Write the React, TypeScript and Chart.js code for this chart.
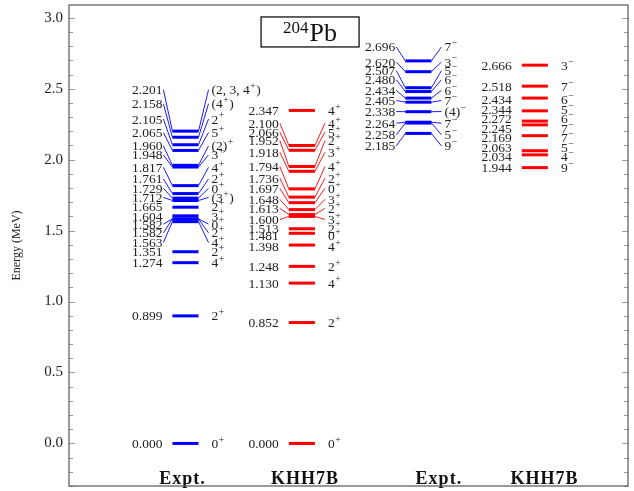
import { useEffect, useRef } from 'react';
import { Chart, registerables } from 'chart.js';

Chart.register(...registerables);

// ---- data (MeV) ----
const columnNames = ['Expt.', 'KHH7B', 'Expt.', 'KHH7B'];
const columnAt = [1, 2, 3, 4];
const columnLabelAt = [0.974, 2.026, 3.176, 4.082];
const nucleusMass = '204';
const nucleusSymbol = 'Pb';
const titleAt = { x: 2.07, y: 2.9 };

// Experiment, positive parity
const exptPosE = [0.0, 0.899, 1.274, 1.351, 1.563, 1.582, 1.582, 1.604, 1.665, 1.712, 1.729, 1.761, 1.817, 1.948, 1.96, 2.065, 2.105, 2.158, 2.201];
const exptPosJ = ['0^+', '2^+', '4^+', '2^+', '4^+', '2^+', '0^+', '3^+', '2^+', '(3^+)', '0^+', '2^+', '4^+', '3^+', '(2)^+', '5^+', '2^+', '(4^+)', '(2, 3, 4^+)'];
const exptPosLabelE = [0.0, 0.899, 1.274, 1.351, 1.416, 1.484, 1.546, 1.602, 1.668, 1.734, 1.798, 1.864, 1.946, 2.033, 2.097, 2.191, 2.286, 2.394, 2.493];

// KHH7B, positive parity
const khhPosE = [0.0, 0.852, 1.13, 1.248, 1.398, 1.481, 1.513, 1.6, 1.613, 1.648, 1.697, 1.736, 1.794, 1.918, 1.952, 2.066, 2.1, 2.347];
const khhPosJ = ['0^+', '2^+', '4^+', '2^+', '4^+', '0^+', '2^+', '3^+', '2^+', '3^+', '0^+', '2^+', '4^+', '3^+', '2^+', '5^+', '4^+', '4^+'];
const khhPosLabelE = [0.0, 0.852, 1.13, 1.248, 1.385, 1.463, 1.518, 1.578, 1.657, 1.72, 1.798, 1.869, 1.951, 2.052, 2.134, 2.194, 2.257, 2.347];

// Experiment, negative parity
const exptNegE = [2.185, 2.258, 2.264, 2.338, 2.405, 2.434, 2.48, 2.507, 2.62, 2.696];
const exptNegJ = ['9^−', '5^−', '7^−', '(4)^−', '7^−', '6^−', '6^−', '5^−', '3^−', '7^−'];
const exptNegLabelE = [2.097, 2.175, 2.257, 2.339, 2.417, 2.488, 2.563, 2.627, 2.688, 2.794];

// KHH7B, negative parity
const khhNegE = [1.944, 2.034, 2.063, 2.169, 2.245, 2.272, 2.344, 2.434, 2.518, 2.666];
const khhNegJ = ['9^−', '4^−', '5^−', '7^−', '7^−', '6^−', '5^−', '6^−', '7^−', '3^−'];
const khhNegLabelE = [1.946, 2.021, 2.085, 2.158, 2.222, 2.288, 2.351, 2.422, 2.518, 2.666];

const yTicksMin = -0.3;
const yTicksMax = 3.09;

// ---- styles ----
const BLUE = '#0000ff';
const RED = '#ff0000';
const SERIF = '"Liberation Serif", "Times New Roman", serif';
const HALF = 0.112;

type Col = {
  x: number;
  energies: number[];
  spins: string[];
  labelE: number[];
  color: string;
  links: 'all' | 'moved' | 'none';
};

const cols: Col[] = [
  { x: columnAt[0], energies: exptPosE, spins: exptPosJ, labelE: exptPosLabelE, color: BLUE, links: 'moved' },
  { x: columnAt[1], energies: khhPosE, spins: khhPosJ, labelE: khhPosLabelE, color: RED, links: 'moved' },
  { x: columnAt[2], energies: exptNegE, spins: exptNegJ, labelE: exptNegLabelE, color: BLUE, links: 'all' },
  { x: columnAt[3], energies: khhNegE, spins: khhNegJ, labelE: khhNegLabelE, color: RED, links: 'none' },
];

function drawRich(ctx: CanvasRenderingContext2D, text: string, x: number, y: number, size: number) {
  let cx = x;
  let buf = '';
  const flush = () => {
    if (!buf) return;
    ctx.font = `${size}px ${SERIF}`;
    ctx.fillText(buf, cx, y);
    cx += ctx.measureText(buf).width;
    buf = '';
  };
  for (let i = 0; i < text.length; i++) {
    if (text[i] === '^' && i + 1 < text.length) {
      flush();
      const s = text[i + 1];
      const ss = size * 0.72;
      ctx.font = `${ss}px ${SERIF}`;
      ctx.fillText(s, cx + 0.5, y - size * 0.38);
      cx += ctx.measureText(s).width + 1;
      i++;
    } else {
      buf += text[i];
    }
  }
  flush();
}

const levelPlugin = {
  id: 'levelScheme',
  afterDraw(chart: any) {
    const { ctx, chartArea: ca, scales } = chart;
    const xs = scales.x;
    const ys = scales.y;
    ctx.save();

    // minor / major ticks, inward on left and right
    ctx.strokeStyle = '#9a9a9a';
    ctx.lineWidth = 1;
    for (let i = Math.ceil(yTicksMin * 10); i <= Math.floor(yTicksMax * 10); i++) {
      const py = Math.round(ys.getPixelForValue(i / 10)) + 0.5;
      const len = i % 5 === 0 ? 6 : 4;
      ctx.beginPath();
      ctx.moveTo(ca.left, py);
      ctx.lineTo(ca.left + len, py);
      ctx.moveTo(ca.right, py);
      ctx.lineTo(ca.right - len, py);
      ctx.stroke();
    }

    // connectors & labels
    const fs = 13.5;
    for (const col of cols) {
      const x0 = xs.getPixelForValue(col.x - HALF);
      const x1 = xs.getPixelForValue(col.x + HALF);
      col.energies.forEach((E, i) => {
        const yl = ys.getPixelForValue(E);
        const yt = ys.getPixelForValue(col.labelE[i]);
        const link = col.links === 'all' || (col.links === 'moved' && Math.abs(col.labelE[i] - E) > 0.02);
        if (link) {
          ctx.strokeStyle = col.color;
          ctx.lineWidth = 0.9;
          ctx.beginPath();
          ctx.moveTo(x0 - 9, yt);
          ctx.lineTo(x0, yl);
          ctx.moveTo(x1, yl);
          ctx.lineTo(x1 + 10, yt);
          ctx.stroke();
        }
        ctx.fillStyle = '#222';
        ctx.font = `${fs}px ${SERIF}`;
        ctx.textAlign = 'right';
        ctx.textBaseline = 'alphabetic';
        ctx.fillText(E.toFixed(3), x0 - 10, yt + 4.5);
        ctx.textAlign = 'left';
        drawRich(ctx, col.spins[i], x1 + 13, yt + 4.5, fs);
      });
    }

    // column names
    ctx.fillStyle = '#111';
    ctx.font = `bold 18px ${SERIF}`;
    ctx.textAlign = 'center';
    ctx.textBaseline = 'alphabetic';
    try { (ctx as any).letterSpacing = '1px'; } catch (e) {}
    columnNames.forEach((n, i) => {
      ctx.fillText(n, xs.getPixelForValue(columnLabelAt[i]), ca.bottom - 2);
    });
    try { (ctx as any).letterSpacing = '0px'; } catch (e) {}

    // title box
    const tx = xs.getPixelForValue(titleAt.x);
    const ty = ys.getPixelForValue(titleAt.y);
    ctx.fillStyle = '#fff';
    ctx.strokeStyle = '#111';
    ctx.lineWidth = 1.3;
    ctx.fillRect(tx - 49, ty - 15, 98, 30);
    ctx.strokeRect(tx - 49, ty - 15, 98, 30);
    ctx.fillStyle = '#111';
    ctx.font = `17px ${SERIF}`;
    const wSup = ctx.measureText(nucleusMass).width;
    ctx.font = `26px ${SERIF}`;
    const wSym = ctx.measureText(nucleusSymbol).width;
    const startX = tx - (wSup + 1 + wSym) / 2;
    ctx.textAlign = 'left';
    ctx.font = `17px ${SERIF}`;
    ctx.fillText(nucleusMass, startX, ty + 1);
    ctx.font = `26px ${SERIF}`;
    ctx.fillText(nucleusSymbol, startX + wSup + 1, ty + 9);

    // y axis title
    ctx.save();
    ctx.translate(17, (ca.top + ca.bottom) / 2);
    ctx.rotate(-Math.PI / 2);
    ctx.font = `12px ${SERIF}`;
    ctx.fillStyle = '#222';
    ctx.textAlign = 'center';
    ctx.textBaseline = 'middle';
    ctx.fillText('Energy (MeV)', 0, 0);
    ctx.restore();

    // frame
    ctx.strokeStyle = '#555';
    ctx.lineWidth = 1.2;
    ctx.strokeRect(ca.left, ca.top, ca.right - ca.left, ca.bottom - ca.top);
    ctx.restore();
  },
};

export default function App() {
  const ref = useRef<HTMLCanvasElement>(null);
  useEffect(() => {
    if (!ref.current) return;
    const datasets: any[] = [];
    for (const col of cols) {
      col.energies.forEach((E) => {
        datasets.push({
          data: [
            { x: col.x - HALF, y: E },
            { x: col.x + HALF, y: E },
          ],
          showLine: true,
          borderColor: col.color,
          backgroundColor: col.color,
          borderWidth: 3,
          pointRadius: 0,
          borderCapStyle: 'butt',
        });
      });
    }
    const chart = new Chart(ref.current, {
      type: 'scatter',
      data: { datasets },
      options: {
        animation: false,
        responsive: false,
        devicePixelRatio: 1,
        layout: { padding: { top: 5, bottom: 5, left: 0, right: 6 } },
        plugins: { legend: { display: false }, tooltip: { enabled: false } },
        events: [],
        scales: {
          x: { type: 'linear', min: 0, max: 4.8, display: false },
          y: {
            type: 'linear',
            min: yTicksMin,
            max: yTicksMax,
            grid: { display: false, drawTicks: false },
            border: { display: false },
            afterFit: (s: any) => {
              s.width = 69;
              s.paddingTop = 0;
              s.paddingBottom = 0;
            },
            ticks: {
              stepSize: 0.5,
              includeBounds: false,
              padding: 6,
              color: '#222',
              font: { family: SERIF, size: 15 },
              callback: (v: any) => Number(v).toFixed(1),
            },
          },
        },
      },
      plugins: [levelPlugin],
    });
    return () => chart.destroy();
  }, []);
  return (
    <div style={{ position: 'absolute', left: 0, top: 0, width: 634, height: 491, background: '#fff' }}>
      <canvas ref={ref} width={634} height={491} style={{ width: 634, height: 491 }} />
    </div>
  );
}
